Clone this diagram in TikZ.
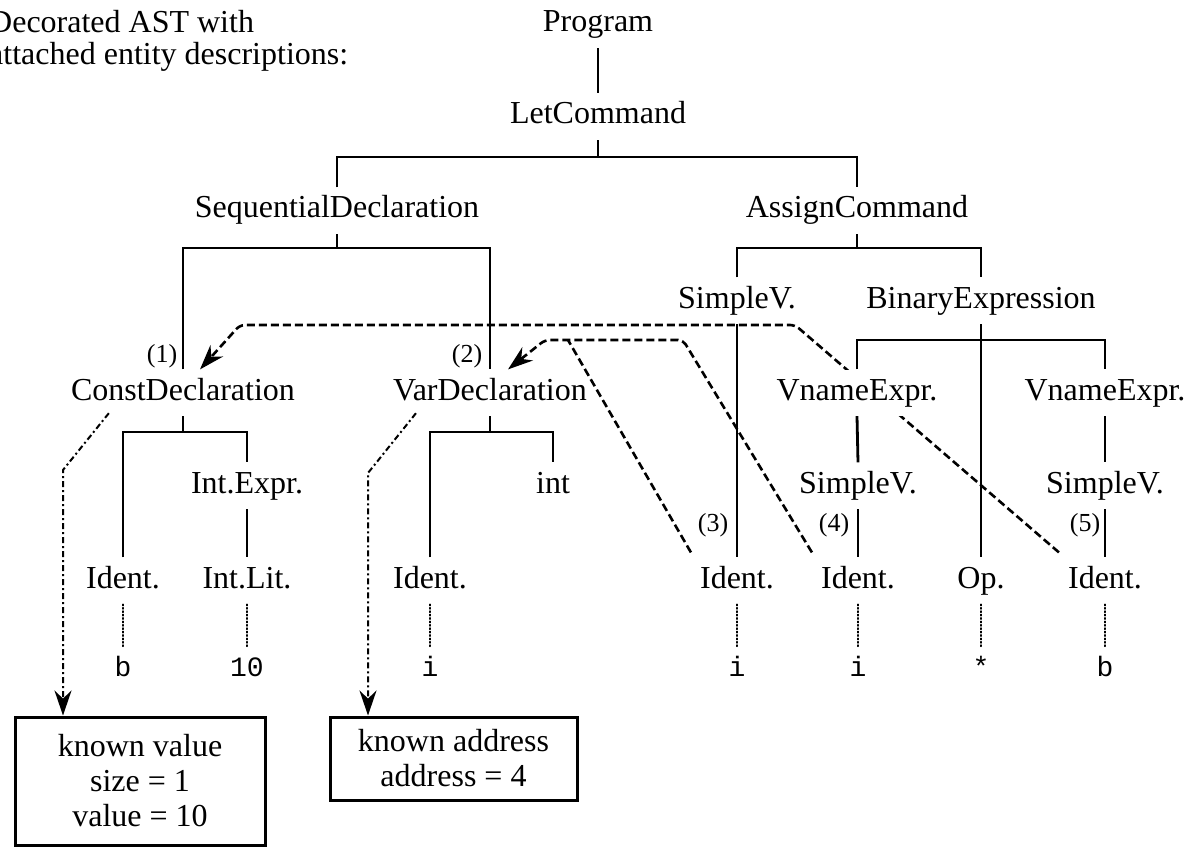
\documentclass[tikz,border=0pt]{standalone}
\usepackage{fontspec}
\setmainfont{Liberation Serif}
\newfontfamily\valfont{Liberation Mono}
\usetikzlibrary{arrows.meta,calc}
\pgfdeclarelayer{background}
\pgfsetlayers{background,main}
\begin{document}
\begin{tikzpicture}[x=1pt,y=-1pt,
  lbl/.style={font=\fontsize{32}{35}\selectfont, inner xsep=2pt, inner ysep=8pt, text height=22.4pt, text depth=8pt, anchor=base},
  val/.style={font=\valfont\fontsize{28}{32}\selectfont, inner xsep=2pt, inner ysep=8pt, text height=19.6pt, text depth=6pt, anchor=base},
  num/.style={font=\fontsize{26}{30}\selectfont, inner sep=0pt, anchor=base},
  tree/.style={line width=2.8pt},
  link/.style={line width=2.6pt, dash pattern=on 8pt off 4pt, rounded corners=5pt},
  attr/.style={line width=2pt, dash pattern=on 6pt off 3pt on 2pt off 3pt},
  dots/.style={line width=1.4pt, dotted, line cap=round},
  infobox/.style={draw, line width=3pt, align=center, font=\fontsize{32}{35}\selectfont, inner sep=0pt},
  tip/.style={-{Stealth[length=25pt,width=17pt]}}
]
\useasboundingbox (0,0) rectangle (1200,848);

% caption
\node[lbl, anchor=base west] (t1) at (-13,33) {Decorated AST with};
\node[lbl, anchor=base west] (t2) at (-13,65) {attached entity descriptions:};

% tree nodes
\node[lbl] (prog)  at (598,32)  {Program};
\node[lbl] (let)   at (598,124) {LetCommand};
\node[lbl] (seq)   at (337,218) {SequentialDeclaration};
\node[lbl] (asg)   at (857,218) {AssignCommand};
\node[lbl] (sv1)   at (737,308) {SimpleV.};
\node[lbl] (bin)   at (981,308) {BinaryExpression};
\node[lbl] (cdecl) at (183,400) {ConstDeclaration};
\node[lbl] (vdecl) at (490,400) {VarDeclaration};
\node[lbl, fill=white] (vn1) at (857,400) {VnameExpr.};
\node[lbl] (vn2)   at (1105,400) {VnameExpr.};
\node[lbl] (iexp)  at (247,493) {Int.Expr.};
\node[lbl] (intt)  at (553,493) {int};
\node[lbl] (sv2)   at (858,493) {SimpleV.};
\node[lbl] (sv3)   at (1105,493) {SimpleV.};
\node[lbl] (idb)   at (123,588) {Ident.};
\node[lbl] (ilit)  at (247,588) {Int.Lit.};
\node[lbl] (idi)   at (430,588) {Ident.};
\node[lbl] (id3)   at (737,588) {Ident.};
\node[lbl] (id4)   at (858,588) {Ident.};
\node[lbl] (op)    at (981,588) {Op.};
\node[lbl] (id5)   at (1105,588) {Ident.};

% leaf values
\node[val] (vb)  at (123,676) {b};
\node[val] (v10) at (247,676) {10};
\node[val] (vi)  at (430,676) {i};
\node[val] (vi3) at (737,676) {i};
\node[val] (vi4) at (858,676) {i};
\node[val] (vst) at (981,676) {*};
\node[val] (vb5) at (1105,676) {b};

% numbers
\node[num] (n1) at (162,362) {(1)};
\node[num] (n2) at (467,362) {(2)};
\node[num] (n3) at (713,531) {(3)};
\node[num] (n4) at (834,531) {(4)};
\node[num] (n5) at (1085,531) {(5)};

% entity description boxes
\node[infobox, minimum width=250pt, minimum height=128pt] (cbox) at (140,781) {known value\\size = 1\\value = 10};
\node[infobox, minimum width=247pt, minimum height=83pt] (vbox) at (453.5,758.5) {known address\\address = 4};

% tree edges
\coordinate (b0) at (0,157);
\coordinate (b1) at (0,248);
\coordinate (b2) at (0,432);
\coordinate (b3) at (0,340);
\draw[tree] (prog.south) -- (let.north);
\draw[tree] (let.south) -- (let.south |- b0);
\draw[tree] (seq.north) |- (let.south |- b0) -| (asg.north);
\draw[tree] (seq.south) -- (seq.south |- b1);
\draw[tree] (cdecl.north) |- (seq.south |- b1) -| (vdecl.north);
\draw[tree] (asg.south) -- (asg.south |- b1);
\draw[tree] (sv1.north) |- (asg.south |- b1) -| (bin.north);
\draw[tree] (cdecl.south) -- (cdecl.south |- b2);
\draw[tree] (idb.north) |- (cdecl.south |- b2) -| (iexp.north);
\draw[tree] (vdecl.south) -- (vdecl.south |- b2);
\draw[tree] (idi.north) |- (vdecl.south |- b2) -| (intt.north);
\draw[tree] (iexp.south) -- (ilit.north);
\draw[tree] (bin.south) -- (op.north);
\draw[tree] (vn1.north) |- (bin.south |- b3) -| (vn2.north);
\draw[tree] (sv1.south) -- (id3.north);
\draw[tree] (vn1.south) -- (sv2.north);
\draw[tree] (sv2.south) -- (id4.north);
\draw[tree] (vn2.south) -- (sv3.north);
\draw[tree] (sv3.south) -- (id5.north);

% dotted lines to values
\draw[dots] (idb.south) -- (vb.north);
\draw[dots] (ilit.south) -- (v10.north);
\draw[dots] (idi.south) -- (vi.north);
\draw[dots] (id3.south) -- (vi3.north);
\draw[dots] (id4.south) -- (vi4.north);
\draw[dots] (op.south) -- (vst.north);
\draw[dots] (id5.south) -- (vb5.north);

\begin{pgfonlayer}{background}
% identification links
\draw[link,tip] ($(id5.north west)+(-7,-5)$) -- (795,325) -- (240,325) -- ([xshift=17pt]cdecl.north);
\draw[link,tip] ($(id4.north west)+(-7,-5)$) -- (683,340) -- (545,340) -- ([xshift=18pt]vdecl.north);
\draw[link] ($(id3.north west)+(-7,-5)$) -- (568,340);
% entity description links
\coordinate (k1) at (63,470);
\coordinate (k2) at (368,473);
\draw[attr,tip] ($(cdecl.south west)+(40,-3)$) -- (k1) -- (k1 |- cbox.north);
\draw[attr,tip] ($(vdecl.south west)+(25,-3)$) -- (k2) -- (k2 |- vbox.north);
\end{pgfonlayer}
\end{tikzpicture}
\end{document}
